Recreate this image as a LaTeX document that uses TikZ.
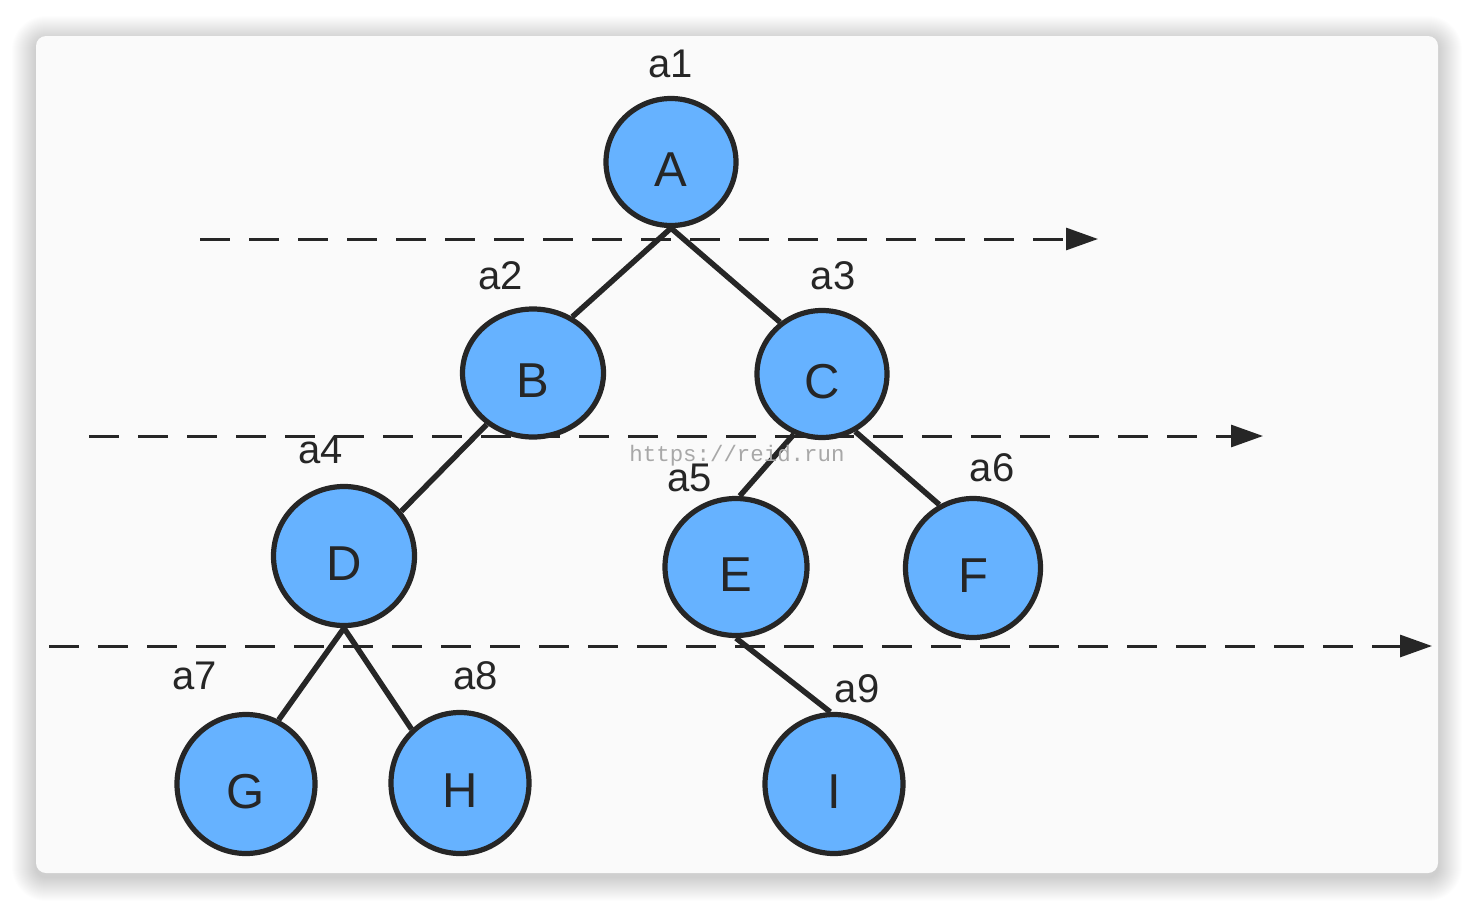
\documentclass[tikz,border=0pt]{standalone}
\usepackage{fontspec}
\setmainfont{Liberation Sans}
\setmonofont{Liberation Mono}
\usetikzlibrary{arrows.meta,shapes.geometric}
\definecolor{node-blue}{HTML}{66B2FF}
\definecolor{line-dark}{HTML}{262626}
\definecolor{card-bg}{HTML}{FAFAFA}
\definecolor{mark-gray}{HTML}{A8A8A8}

\begin{document}
\begin{tikzpicture}[x=0.5pt, y=-0.5pt,
    treenode/.style={ellipse, draw=line-dark, fill=node-blue, line width=2.6pt,
      inner sep=0pt, text=line-dark, text height=24.5pt, text depth=0pt,
      font=\fontsize{24.5}{25}\selectfont},
    dims/.style 2 args={minimum width=#1pt, minimum height=#2pt},
    tag/.style={font=\fontsize{20}{20}\selectfont, text=line-dark, inner sep=0pt},
    edge/.style={line-dark, line width=2.75pt},
    levelline/.style={line-dark, line width=1.5pt, dash pattern=on 15pt off 9.5pt,
      -{Triangle[length=16pt, width=11pt]}}]
  \useasboundingbox (0,0) rectangle (1474,910);
  % card with soft shadow
  \foreach \i in {1,...,24}
    \fill[black, opacity=0.007, rounded corners={(10+\i)*0.5pt}]
      (36-\i,40-\i) rectangle (1438+\i,877+\i);
  \fill[card-bg, rounded corners=5pt] (36,36) rectangle (1438,873);

  % level lines
  \coordinate (L1s) at (200,239);  \coordinate (L1e) at (1098,239);
  \coordinate (L2s) at (89,436);   \coordinate (L2e) at (1263,436);
  \coordinate (L3s) at (49,646);   \coordinate (L3e) at (1432,646);
  \draw[levelline] (L1s) -- (L1e);
  \draw[levelline] (L2s) -- (L2e);
  \draw[levelline] (L3s) -- (L3e);

  % tree nodes
  \node[treenode, dims={65}{63.5}]   (A) at (671,162) {A};
  \node[treenode, dims={70.5}{64}]   (B) at (533,373) {B};
  \node[treenode, dims={65}{63.5}]   (C) at (822,374) {C};
  \node[treenode, dims={70.5}{69.5}] (D) at (344,556) {D};
  \node[treenode, dims={71}{68.5}]   (E) at (736,567) {E};
  \node[treenode, dims={67.5}{69.5}] (F) at (973,568) {F};
  \node[treenode, dims={69}{69.5}]   (G) at (246,784) {G};
  \node[treenode, dims={69}{70.5}]   (H) at (460,783) {H};
  \node[treenode, dims={69}{69.5}]   (I) at (834,784) {I};

  % edges
  \draw[edge] (A.south) -- (B.55);
  \draw[edge] (A.south) -- (C.129);
  \draw[edge] (B.228) -- (D.38);
  \draw[edge] (C.245) -- (E.87);
  \draw[edge] (C.300) -- (F.118);
  \draw[edge] (D.south) -- (G.63);
  \draw[edge] (D.south) -- (H.132);
  \draw[edge] (E.south) -- (I.93);

  % labels
  \node[tag] (t1) at (671,64)  {a1};
  \node[tag] (t2) at (501,276) {a2};
  \node[tag] (t3) at (833,276) {a3};
  \node[tag] (t4) at (321,450) {a4};
  \node[tag] (t5) at (690,478) {a5};
  \node[tag] (t6) at (992,468) {a6};
  \node[tag] (t7) at (195,676) {a7};
  \node[tag] (t8) at (476,676) {a8};
  \node[tag] (t9) at (857,689) {a9};

  % watermark
  \node[font=\ttfamily\fontsize{11.2}{12}\selectfont, text=mark-gray, inner sep=0pt]
    (mark) at (737,456) {https://reid.run};
\end{tikzpicture}
\end{document}
